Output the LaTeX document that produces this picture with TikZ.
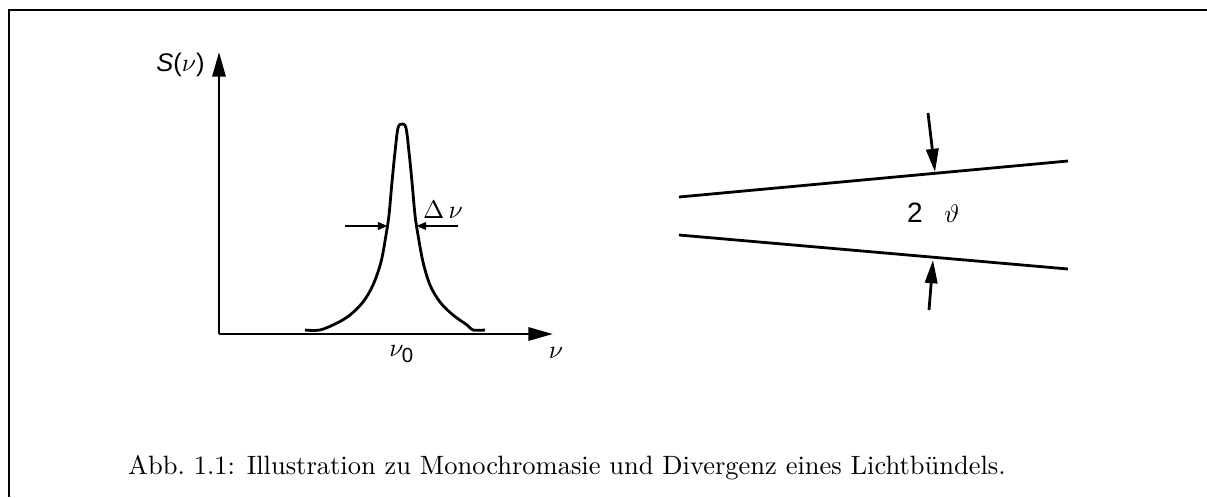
\documentclass[tikz,border=0pt]{standalone}
\usepackage{fontspec}
\newfontfamily\arialfont{Liberation Sans}
\usetikzlibrary{arrows.meta}

\begin{document}
\begin{tikzpicture}[x=0.0138cm, y=-0.0138cm,
  axis/.style={line width=1.1pt, -{Triangle[length=3.4mm, width=1.8mm]}},
  marker/.style={line width=1.1pt, -{Triangle[length=1.4mm, width=1mm]}},
  bigmarker/.style={line width=1.1pt, -{Triangle[length=3.2mm, width=1.7mm]}},
  beam/.style={line width=1.1pt},
  lbl/.style={inner sep=0pt, font=\fontsize{10}{11}\selectfont},
  caption/.style={inner sep=0pt, font=\fontsize{10.4}{12}\selectfont},
]
\useasboundingbox (0,0) rectangle (1207,497);

% frame
\draw[line width=1.1pt] (9,497) -- (9,10) -- (1207,10);

% spectrum
\coordinate (O) at (219,334);
\coordinate (ytip) at (219,52);
\coordinate (xtip) at (553,334);
\draw[axis] (O) -- (ytip);
\draw[axis] (O) -- (xtip);

\node[lbl, anchor=east] (sname) at (205,65) {{\arialfont\itshape S}{\arialfont(}$\nu${\arialfont)}};
\node[lbl] (xname) at (556,353) {$\nu$};
\node[lbl] (nu0) at (402,354) {$\nu_{\mbox{\arialfont\footnotesize 0}}$};

\draw[line width=1.1pt] plot[smooth, tension=0.55] coordinates {
  (305,330) (320,330) (337,323) (350,315) (363,302) (373,285) (381,262)
  (386,235) (389,215) (392,182) (395,152) (398,128) (402,124) (406,128)
  (409,152) (412,182) (415,215) (418,235) (423,262) (430,285) (440,302)
  (453,315) (467,325) (473,330) (485,330)};

\coordinate (wl) at (345,226);
\coordinate (wlt) at (388,226);
\coordinate (wr) at (458,226);
\coordinate (wrt) at (416,226);
\draw[marker] (wl) -- (wlt);
\draw[marker] (wr) -- (wrt);
\node[lbl] (width) at (443,210) {$\Delta\,\nu$};

% beam
\coordinate (a1) at (679,197);
\coordinate (b1) at (1068,161);
\coordinate (a2) at (679,235);
\coordinate (b2) at (1068,269);
\draw[beam] (a1) -- (b1);
\draw[beam] (a2) -- (b2);

\coordinate (t1) at (928,113);
\coordinate (h1) at (935,172);
\coordinate (t2) at (929,310);
\coordinate (h2) at (933,260);
\draw[bigmarker] (t1) -- (h1);
\draw[bigmarker] (t2) -- (h2);

\node[lbl, font=\fontsize{11}{12}\selectfont] (two) at (915,213) {\arialfont 2};
\node[lbl] (angle) at (952,214) {$\vartheta$};

\node[caption] (cap) at (567,468) {Abb.~1.1: Illustration zu Monochromasie und Divergenz eines Lichtbündels.};
\end{tikzpicture}
\end{document}
